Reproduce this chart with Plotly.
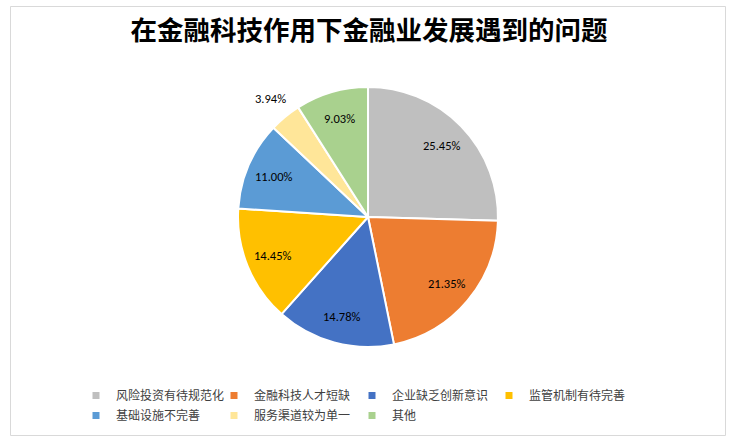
import math
import plotly.graph_objects as go

W, H = 738, 446

labels = ["风险投资有待规范化", "金融科技人才短缺", "企业缺乏创新意识", "监管机制有待完善",
          "基础设施不完善", "服务渠道较为单一", "其他"]
values = [25.45, 21.35, 14.78, 14.45, 11.00, 3.94, 9.03]
colors = ["#BFBFBF", "#ED7D31", "#4472C4", "#FFC000", "#5B9BD5", "#FFE699", "#A9D18E"]

font = "Noto Sans CJK SC"

# pie geometry in pixels
cx, cy, r = 368, 217, 130

fig = go.Figure()
fig.add_trace(go.Pie(
    labels=labels,
    values=values,
    sort=False,
    direction="clockwise",
    rotation=0,
    marker=dict(colors=colors, line=dict(color="white", width=2)),
    textinfo="none",
    showlegend=False,
    domain=dict(x=[(cx - r) / W, (cx + r) / W], y=[1 - (cy + r) / H, 1 - (cy - r) / H]),
    hoverinfo="label+percent",
))

# legend entries laid out on a 4-column grid, one legend box per entry
col_x = [76, 214, 352, 489]
row_y = [381, 401]
legends = {}
for i, (lab, col) in enumerate(zip(labels, colors)):
    key = "legend" if i == 0 else f"legend{i + 1}"
    fig.add_trace(go.Scatter(
        x=[None], y=[None], mode="markers", name=lab,
        marker=dict(symbol="square", size=7, color=col),
        legend=key, hoverinfo="skip",
    ))
    legends[key] = dict(
        x=col_x[i % 4] / W, xanchor="left", y=1 - row_y[i // 4] / H, yanchor="top",
        font=dict(family=font, size=12, color="#404040"), itemwidth=30,
        bgcolor="rgba(0,0,0,0)",
    )

# percentage labels placed at each slice's mid angle
total = sum(values)
annotations = []
acc = 0
for v in values:
    mid = (acc + v / 2) / total * 2 * math.pi
    acc += v
    rf = 1.18 if v / total < 0.05 else 0.79
    px = cx + rf * r * math.sin(mid)
    py = cy - rf * r * math.cos(mid)
    annotations.append(dict(
        x=px / W, y=1 - py / H, xref="paper", yref="paper",
        text=f"{v:.2f}%", showarrow=False, xanchor="center", yanchor="middle",
        font=dict(family="Carlito, Lato, sans-serif", size=12.5, color="#000000"),
    ))

fig.update_layout(
    width=W, height=H,
    margin=dict(l=0, r=0, t=0, b=0),
    paper_bgcolor="white",
    plot_bgcolor="white",
    xaxis=dict(visible=False),
    yaxis=dict(visible=False),
    title=dict(text="<b>在金融科技作用下金融业发展遇到的问题</b>", x=0.5, xanchor="center",
               xref="container", y=1 - 31 / H, yanchor="middle",
               font=dict(family=font, size=26.5, color="#000000")),
    annotations=annotations,
    shapes=[dict(type="rect", xref="paper", yref="paper",
                 x0=10.5 / W, x1=725.5 / W, y0=1 - 435.5 / H, y1=1 - 6.5 / H,
                 line=dict(color="#D9D9D9", width=1))],
    **legends,
)

fig.write_html("out.html", config={"displayModeBar": False},
               post_script="document.body.style.margin='0';")
